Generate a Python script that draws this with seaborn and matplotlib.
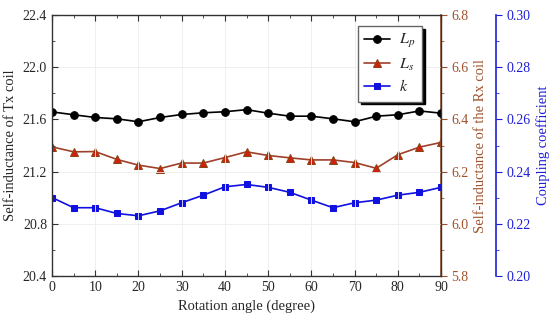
import matplotlib
matplotlib.use("Agg")
import matplotlib.pyplot as plt
import numpy as np
import pandas as pd
import seaborn as sns
from matplotlib.ticker import MultipleLocator, FormatStrFormatter

# rotation angle (degree)
angle = [0, 5, 10, 15, 20, 25, 30, 35, 40, 45, 50, 55, 60, 65, 70, 75, 80, 85, 90]
# self-inductance of the Tx coil
lp = [21.658, 21.636, 21.615, 21.605, 21.582, 21.615, 21.638, 21.651, 21.659, 21.675,
      21.648, 21.625, 21.625, 21.605, 21.582, 21.625, 21.636, 21.665, 21.648]
# self-inductance of the Rx coil
ls = [6.295, 6.276, 6.277, 6.247, 6.225, 6.212, 6.233, 6.233, 6.254, 6.276,
      6.262, 6.253, 6.245, 6.245, 6.235, 6.213, 6.265, 6.294, 6.312]
# coupling coefficient
k = [0.2301, 0.2262, 0.2262, 0.2240, 0.2231, 0.2250, 0.2281, 0.2310, 0.2342, 0.2351,
     0.2340, 0.2321, 0.2291, 0.2262, 0.2281, 0.2291, 0.2310, 0.2321, 0.2340]

df = pd.DataFrame({"angle": angle, "Lp": lp, "Ls": ls, "k": k})

sns.set_style("ticks")
plt.rcParams["font.family"] = ["Liberation Serif", "DejaVu Serif"]
plt.rcParams["mathtext.fontset"] = "stix"

RED_AX = "#A0522D"
BLUE_AX = "#1E1ED8"

fig = plt.figure(figsize=(5.5, 3.26), dpi=100)
ax = fig.add_axes([0.0945, 0.153, 0.7075, 0.801])
ax2 = ax.twinx()
ax3 = ax.twinx()
ax3.spines["right"].set_position(("axes", 1.141))

sns.lineplot(data=df, x="angle", y="Lp", ax=ax, color="black", marker="o",
             markersize=5.5, markeredgecolor="black", lw=1.2, legend=False)
sns.lineplot(data=df, x="angle", y="Ls", ax=ax2, color="#A0402A", marker="^",
             markersize=6, markerfacecolor="#D02010", markeredgecolor="#8B4513",
             lw=1.2, legend=False)
sns.lineplot(data=df, x="angle", y="k", ax=ax3, color="#1010E0", marker="s",
             markersize=5, markeredgecolor="#1010E0", lw=1.2, legend=False)

ax.set_xlim(0, 90)
ax.set_ylim(20.4, 22.4)
ax2.set_ylim(5.8, 6.8)
ax3.set_ylim(0.20, 0.30)

ax.xaxis.set_major_locator(MultipleLocator(10))
ax.xaxis.set_minor_locator(MultipleLocator(5))
ax.yaxis.set_major_locator(MultipleLocator(0.4))
ax.yaxis.set_minor_locator(MultipleLocator(0.2))
ax2.yaxis.set_major_locator(MultipleLocator(0.2))
ax2.yaxis.set_minor_locator(MultipleLocator(0.1))
ax3.yaxis.set_major_locator(MultipleLocator(0.02))
ax3.yaxis.set_minor_locator(MultipleLocator(0.01))
ax.yaxis.set_major_formatter(FormatStrFormatter("%.1f"))
ax2.yaxis.set_major_formatter(FormatStrFormatter("%.1f"))
ax3.yaxis.set_major_formatter(FormatStrFormatter("%.2f"))

ax.grid(True, which="major", color="#ececec", lw=0.6)
ax.set_axisbelow(True)

ax.tick_params(axis="both", which="both", direction="in", top=True,
               labelsize=10, color="#333333")
ax.tick_params(which="major", length=4)
ax.tick_params(which="minor", length=2.5)
for a, c in [(ax2, RED_AX), (ax3, BLUE_AX)]:
    a.tick_params(axis="y", which="both", direction="out", colors=c, labelsize=10)
    a.tick_params(which="major", length=4)
    a.tick_params(which="minor", length=2.5)

for sp in ax.spines.values():
    sp.set_color("#333333")
    sp.set_linewidth(1.0)
for name in ["left", "top", "bottom"]:
    ax2.spines[name].set_visible(False)
    ax3.spines[name].set_visible(False)
ax2.spines["right"].set_color(RED_AX)
ax2.spines["right"].set_linewidth(1.2)
ax3.spines["right"].set_color(BLUE_AX)
ax3.spines["right"].set_linewidth(1.2)

ax.set_xlabel("Rotation angle (degree)", fontsize=10.5)
ax.set_ylabel("Self-inductance of Tx coil", fontsize=10.5)
ax2.set_ylabel("Self-inductance of the Rx coil", fontsize=10.5, color=RED_AX)
ax3.set_ylabel("Coupling coefficient", fontsize=10.5, color=BLUE_AX)

handles = [ax.lines[0], ax2.lines[0], ax3.lines[0]]
leg = ax.legend(handles, ["$L_p$", "$L_s$", "$k$"], loc="upper right",
                bbox_to_anchor=(0.951, 0.958), fontsize=11.5, frameon=True,
                fancybox=False, edgecolor="#666666", framealpha=1,
                shadow={"color": "black", "alpha": 1},
                handlelength=1.6, handletextpad=0.6, labelspacing=0.4,
                borderpad=0.4, borderaxespad=0)
leg.set_zorder(10)
ax.set_zorder(ax3.get_zorder() + 1)
ax.patch.set_visible(False)

fig.savefig("out.png", dpi=100)
